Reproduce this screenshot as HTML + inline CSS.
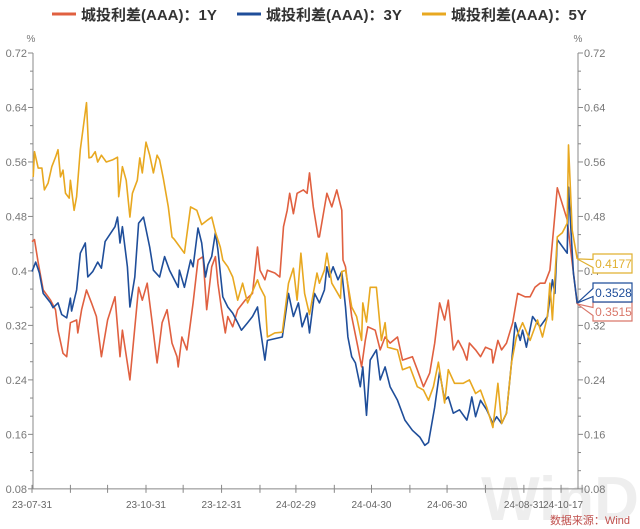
<!DOCTYPE html>
<html><head><meta charset="utf-8"><style>
body{margin:0;background:#fff;}
svg{display:block;font-family:"Liberation Sans","Noto Sans CJK SC",sans-serif;}
</style></head><body>
<svg id="chart" width="640" height="529" viewBox="0 0 640 529">
<text x="560" y="520" font-size="62" font-weight="bold" fill="#eeeeee" text-anchor="middle">WinD</text>
<g id="legend">
<g><line x1="52" y1="14" x2="76" y2="14" stroke="#e06040" stroke-width="3"/><text x="81" y="20" font-size="15" font-weight="bold" fill="#333">城投利差(AAA)：1Y</text></g>
<g><line x1="237" y1="14" x2="261" y2="14" stroke="#1f4e9a" stroke-width="3"/><text x="266" y="20" font-size="15" font-weight="bold" fill="#333">城投利差(AAA)：3Y</text></g>
<g><line x1="422" y1="14" x2="446" y2="14" stroke="#e8a820" stroke-width="3"/><text x="451" y="20" font-size="15" font-weight="bold" fill="#333">城投利差(AAA)：5Y</text></g>
</g>
<text x="31" y="42" font-size="10" fill="#777" text-anchor="middle">%</text>
<text x="578" y="42" font-size="10" fill="#777" text-anchor="middle">%</text>
<g id="axes"></g>
<g id="series"></g>
<g id="callouts"></g>
<text x="630" y="524" font-size="11" fill="#c0504d" text-anchor="end">数据来源：Wind</text>
</svg>
<script>
const yTicks=[0.08,0.16,0.24,0.32,0.4,0.48,0.56,0.64,0.72];
const yTickLabels=["0.08","0.16","0.24","0.32","0.4","0.48","0.56","0.64","0.72"];
const monthTickDays=[0,31,61,92,122,153,184,213,244,274,305,335,366,397,427,444];
const xLabelDays=[0,92,153,213,274,335,397,444];
const xLabels=["23-07-31","23-10-31","23-12-31","24-02-29","24-04-30","24-06-30","24-08-31","24-10-17"];
const days5y=[1,2,5,8,10,13,16,19,21,23,25,27,30,31,34,36,39,44,46,48,51,53,56,60,65,69,70,73,76,79,81,85,87,89,92,95,98,101,103,106,110,113,115,123,128,133,137,142,145,148,152,154,158,162,166,170,174,182,184,188,190,196,202,207,211,214,217,220,224,230,232,236,238,242,249,250,253,258,262,266,267,270,273,278,282,285,287,295,299,305,311,316,320,324,328,333,336,341,348,353,358,362,367,372,376,379,383,387,391,396,402,408,412,416,418,420,424,428,432,433,436,440];
const vals5y=[0.538,0.575,0.551,0.551,0.519,0.529,0.553,0.567,0.578,0.538,0.548,0.514,0.507,0.533,0.489,0.509,0.578,0.647,0.566,0.567,0.575,0.560,0.570,0.560,0.563,0.567,0.509,0.553,0.533,0.479,0.514,0.533,0.566,0.544,0.589,0.570,0.544,0.570,0.563,0.536,0.494,0.450,0.446,0.426,0.494,0.489,0.468,0.475,0.479,0.457,0.435,0.416,0.406,0.391,0.357,0.382,0.353,0.387,0.376,0.362,0.303,0.309,0.310,0.382,0.404,0.357,0.426,0.367,0.336,0.397,0.382,0.401,0.426,0.382,0.360,0.399,0.401,0.347,0.333,0.298,0.353,0.325,0.376,0.376,0.298,0.324,0.288,0.284,0.255,0.259,0.230,0.225,0.210,0.230,0.266,0.206,0.255,0.235,0.235,0.240,0.220,0.225,0.200,0.170,0.235,0.176,0.191,0.265,0.303,0.324,0.298,0.328,0.303,0.333,0.382,0.328,0.450,0.456,0.470,0.585,0.460,0.4177];
const days3y=[0,3,6,9,15,17,21,24,28,31,32,36,39,43,45,49,53,56,59,67,69,71,73,77,79,83,86,90,95,98,103,107,111,118,119,123,128,130,134,137,140,142,145,148,150,154,158,162,166,169,174,178,182,184,188,190,202,207,211,215,218,222,224,228,232,236,238,240,243,247,250,253,255,258,261,265,267,270,273,278,281,285,289,295,301,307,313,317,320,325,329,333,336,340,345,351,353,355,358,362,367,372,375,379,383,387,390,394,396,399,404,410,414,416,420,422,424,432,433,437,440];
const vals3y=[0.399,0.413,0.397,0.367,0.353,0.346,0.353,0.336,0.331,0.360,0.341,0.372,0.426,0.441,0.391,0.399,0.413,0.404,0.443,0.465,0.479,0.441,0.465,0.406,0.347,0.391,0.470,0.479,0.435,0.401,0.391,0.421,0.401,0.376,0.401,0.376,0.416,0.406,0.463,0.441,0.391,0.409,0.421,0.456,0.431,0.362,0.347,0.338,0.324,0.313,0.324,0.333,0.347,0.318,0.269,0.298,0.303,0.367,0.333,0.353,0.318,0.338,0.309,0.367,0.353,0.372,0.406,0.391,0.406,0.387,0.399,0.347,0.303,0.274,0.265,0.230,0.259,0.188,0.269,0.284,0.240,0.259,0.230,0.210,0.181,0.166,0.156,0.144,0.148,0.200,0.252,0.210,0.215,0.191,0.196,0.181,0.196,0.215,0.186,0.210,0.196,0.176,0.186,0.176,0.191,0.265,0.324,0.298,0.313,0.288,0.333,0.318,0.328,0.333,0.387,0.367,0.446,0.426,0.523,0.397,0.3528];
const days1y=[0,2,5,9,15,19,21,25,28,31,36,37,40,44,48,52,56,61,67,71,73,79,82,86,89,93,97,101,105,109,113,117,118,121,125,130,134,138,141,145,148,150,153,156,158,162,166,172,178,182,184,188,190,196,200,203,206,208,211,214,219,222,224,227,231,232,238,242,246,250,251,253,258,263,266,269,271,277,281,285,289,295,299,307,311,316,321,325,329,333,336,340,344,348,351,353,358,362,366,371,372,376,379,383,388,392,398,402,406,410,414,418,424,432,436,440];
const vals1y=[0.443,0.446,0.412,0.372,0.357,0.343,0.313,0.279,0.274,0.324,0.328,0.309,0.343,0.372,0.353,0.333,0.274,0.328,0.362,0.274,0.313,0.240,0.298,0.376,0.357,0.382,0.324,0.265,0.324,0.343,0.294,0.274,0.259,0.303,0.284,0.353,0.416,0.421,0.343,0.406,0.421,0.382,0.343,0.309,0.333,0.318,0.343,0.357,0.367,0.435,0.401,0.387,0.401,0.397,0.391,0.465,0.489,0.514,0.484,0.514,0.519,0.514,0.544,0.494,0.450,0.450,0.514,0.494,0.519,0.489,0.416,0.406,0.333,0.288,0.259,0.298,0.318,0.313,0.284,0.303,0.294,0.303,0.269,0.274,0.255,0.230,0.250,0.294,0.353,0.328,0.357,0.284,0.298,0.284,0.269,0.294,0.284,0.274,0.288,0.284,0.265,0.298,0.284,0.294,0.324,0.367,0.362,0.362,0.376,0.382,0.382,0.401,0.522,0.475,0.412,0.3515];

const NS="http://www.w3.org/2000/svg";
const X0=32,PXD=1.239,Y0=53,YMAX=0.72,PXV=681;
function xs(d){return X0+d*PXD;}
function ys(v){return Y0+(YMAX-v)*PXV;}
function mk(tag,attrs,parent){const e=document.createElementNS(NS,tag);for(const k in attrs)e.setAttribute(k,attrs[k]);parent.appendChild(e);return e;}
const axes=document.getElementById('axes');
const L=33,R=578,B=ys(0.08);
let e;
e=mk('line',{x1:L,y1:ys(0.72),x2:L,y2:B,stroke:'#888','stroke-width':1},axes);


e=mk('line',{x1:R,y1:ys(0.72),x2:R,y2:B,stroke:'#888','stroke-width':1},axes);


e=mk('line',{x1:L,y1:B,x2:R,y2:B,stroke:'#888','stroke-width':1},axes);


for(let i=0;i<yTicks.length;i++){
  const y=ys(yTicks[i]);
  mk('line',{x1:L-5,y1:y,x2:L,y2:y,stroke:'#888'},axes);
  mk('line',{x1:R,y1:y,x2:R+5,y2:y,stroke:'#888'},axes);
  if(i<yTicks.length-1){for(let k=1;k<3;k++){const ym=ys(yTicks[i]+(yTicks[i+1]-yTicks[i])*k/3);
    mk('line',{x1:L-3,y1:ym,x2:L,y2:ym,stroke:'#888'},axes);mk('line',{x1:R,y1:ym,x2:R+3,y2:ym,stroke:'#888'},axes);}}
  let t=mk('text',{x:L-6,y:y+4,'font-size':11,fill:'#777','text-anchor':'end'},axes);t.textContent=yTickLabels[i];
  
  
  t=mk('text',{x:R+6,y:y+4,'font-size':11,fill:'#777'},axes);t.textContent=yTickLabels[i];
  
  
}
monthTickDays.forEach(d=>{mk('line',{x1:xs(d),y1:B-4,x2:xs(d),y2:B+4,stroke:'#888'},axes);});
xLabelDays.forEach((d,i)=>{let x=xs(d);let anchor='middle';if(i===xLabels.length-1){x=x+1;anchor='end';}
  const t=mk('text',{x:x,y:B+19,'font-size':10,fill:'#666','text-anchor':anchor},axes);t.textContent=xLabels[i];
  
  
});
const sg=document.getElementById('series');
function line(days,vals,color,name){
  const p=days.map((d,i)=>(i?'L':'M')+xs(d).toFixed(1)+','+ys(vals[i]).toFixed(1)).join('');
  const el=mk('path',{d:p,fill:'none',stroke:color,'stroke-width':1.6,'stroke-linejoin':'round'},sg);
  
  
}
line(days1y,vals1y,'#e06040','series-1y-line');
line(days3y,vals3y,'#1f4e9a','series-3y-line');
line(days5y,vals5y,'#e8a820','series-5y-line');
const cg=document.getElementById('callouts');
function callout(days,vals,top,color,name){
  const px=xs(days[days.length-1]),py=ys(vals[vals.length-1]);
  const x1=593,x2=632,h=19,mid=top+h/2;
  const d=`M${x1},${top}L${x2},${top}L${x2},${top+h}L${x1},${top+h}L${x1},${mid+4}L${px},${py}L${x1},${mid-4}Z`;
  const g=mk('g',{},cg);
  
  
  mk('path',{d:d,fill:'#fff',stroke:color,'stroke-width':1.2},g);
  const t=mk('text',{x:(x1+x2)/2+1,y:mid+4.5,'font-size':12,fill:color,'text-anchor':'middle'},g);
  t.textContent=vals[vals.length-1].toFixed(4);
}
callout(days1y,vals1y,302,'#d9776a','callout-1y');
callout(days3y,vals3y,283,'#1f4e9a','callout-3y');
callout(days5y,vals5y,254,'#e0b030','callout-5y');
</script>
</body></html>
